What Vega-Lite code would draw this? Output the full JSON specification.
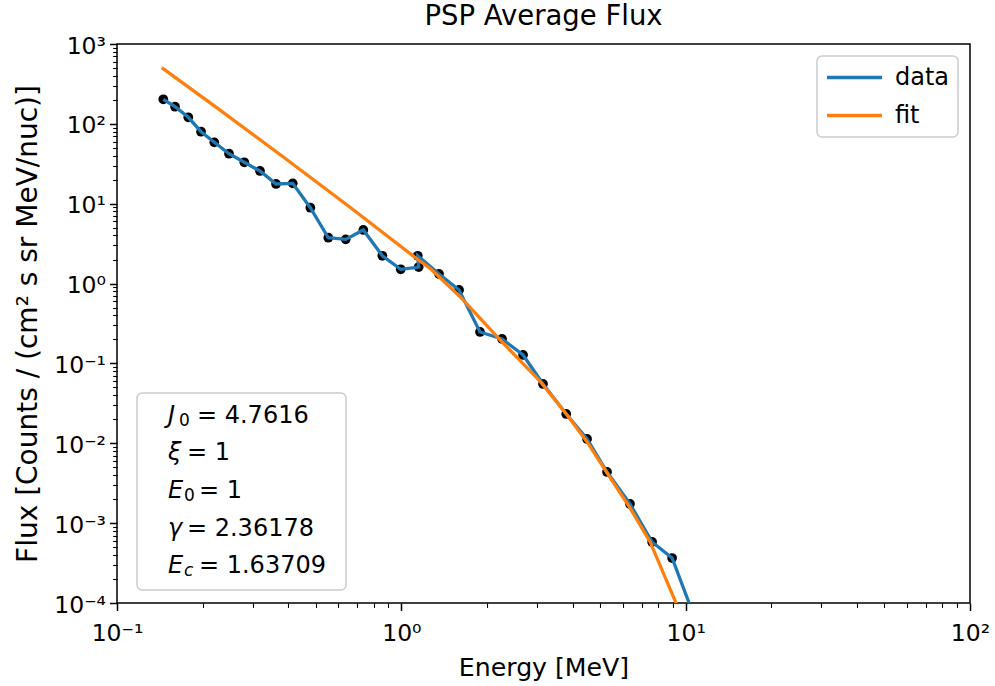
{
  "$schema": "https://vega.github.io/schema/vega-lite/v6.json",
  "width": 853,
  "height": 559,
  "autosize": {"type": "none"},
  "padding": {"left": 117, "top": 44, "right": 25, "bottom": 83},
  "background": "white",
  "title": {"text": "PSP Average Flux", "fontSize": 27.5, "font": "DejaVu Sans", "fontWeight": "normal", "baseline": "alphabetic", "offset": -18, "anchor": "middle", "color": "black"},
  "datasets": {
    "data": [
      {"i": 1, "E": 0.1455, "F": 203},
      {"i": 2, "E": 0.160, "F": 164},
      {"i": 3, "E": 0.1781, "F": 120.8},
      {"i": 4, "E": 0.1975, "F": 79.8},
      {"i": 5, "E": 0.2199, "F": 58.7},
      {"i": 6, "E": 0.2477, "F": 42.3},
      {"i": 7, "E": 0.2804, "F": 33.0},
      {"i": 8, "E": 0.3184, "F": 25.7},
      {"i": 9, "E": 0.3625, "F": 17.66},
      {"i": 10, "E": 0.415, "F": 18.0},
      {"i": 11, "E": 0.4786, "F": 8.91},
      {"i": 12, "E": 0.5535, "F": 3.75},
      {"i": 13, "E": 0.6373, "F": 3.58},
      {"i": 14, "E": 0.735, "F": 4.69},
      {"i": 15, "E": 0.8575, "F": 2.23},
      {"i": 16, "E": 0.995, "F": 1.51},
      {"i": 17, "E": 1.151, "F": 1.61},
      {"i": 18, "E": 1.142, "F": 2.23},
      {"i": 19, "E": 1.357, "F": 1.318},
      {"i": 20, "E": 1.596, "F": 0.832},
      {"i": 21, "E": 1.891, "F": 0.2477},
      {"i": 22, "E": 2.261, "F": 0.2023},
      {"i": 23, "E": 2.680, "F": 0.1276},
      {"i": 24, "E": 3.15, "F": 0.0553},
      {"i": 25, "E": 3.80, "F": 0.0233},
      {"i": 26, "E": 4.50, "F": 0.01132},
      {"i": 27, "E": 5.29, "F": 0.00437},
      {"i": 28, "E": 6.37, "F": 0.00174},
      {"i": 29, "E": 7.62, "F": 0.000581},
      {"i": 30, "E": 8.96, "F": 0.000366},
      {"i": 31, "E": 10.6, "F": 0.000075}
    ],
    "fit": [
      {"E": 0.1436, "F": 505},
      {"E": 0.2242, "F": 159.3},
      {"E": 0.3846, "F": 38.5},
      {"E": 0.660, "F": 9.02},
      {"E": 1.148, "F": 1.974},
      {"E": 1.262, "F": 1.55},
      {"E": 1.609, "F": 0.685},
      {"E": 2.224, "F": 0.1966},
      {"E": 3.002, "F": 0.0657},
      {"E": 3.15, "F": 0.0537},
      {"E": 3.83, "F": 0.0226},
      {"E": 4.50, "F": 0.0104},
      {"E": 5.29, "F": 0.00425},
      {"E": 6.37, "F": 0.00155},
      {"E": 7.50, "F": 0.000581},
      {"E": 9.25, "F": 0.0001},
      {"E": 10.36, "F": 0.000034}
    ]
  },
  "config": {
    "font": "DejaVu Sans",
    "view": {"stroke": "black", "strokeWidth": 1.5},
    "axis": {"grid": false, "domain": false, "ticks": true, "tickColor": "black", "labelColor": "black", "titleColor": "black", "labelFont": "DejaVu Sans", "titleFont": "DejaVu Sans", "labelFontSize": 23.5, "titleFontSize": 25.2, "titleFontWeight": "normal", "labelFlush": false, "labelOverlap": false, "labelBound": false},
    "legend": {"orient": "top-right", "offset": 12, "labelFontSize": 24, "labelFont": "DejaVu Sans", "labelColor": "black", "symbolType": "stroke", "symbolSize": 3025, "symbolStrokeWidth": 3.3, "clipHeight": 27, "rowPadding": 11, "padding": 8, "labelOffset": 11, "strokeColor": "#cccccc", "fillColor": "rgba(255,255,255,0.8)", "cornerRadius": 5, "strokeWidth": 1.5},
    "text": {"font": "DejaVu Sans", "color": "black", "align": "left", "baseline": "middle"}
  },
  "layer": [
    {
      "data": {"name": "data"},
      "mark": {"type": "circle", "color": "black", "size": 95, "opacity": 1, "clip": true},
      "encoding": {
        "x": {"field": "E", "type": "quantitative", "scale": {"type": "log", "domain": [0.1, 100], "nice": false},
          "axis": {"orient": "bottom",
            "values": [0.1, 0.2, 0.3, 0.4, 0.5, 0.6, 0.7, 0.8, 0.9, 1, 2, 3, 4, 5, 6, 7, 8, 9, 10, 20, 30, 40, 50, 60, 70, 80, 90, 100],
            "labelExpr": "abs(log(datum.value)/LN10-round(log(datum.value)/LN10))<0.001 ? ['10⁻¹','10⁰','10¹','10²'][round(log(datum.value)/LN10)+1] : ''",
            "tickSize": 7.5,
            "tickDash": {"condition": {"test": "abs(log(datum.value)/LN10-round(log(datum.value)/LN10))<0.001", "value": []}, "value": [4.4, 20]},
            "tickWidth": {"condition": {"test": "abs(log(datum.value)/LN10-round(log(datum.value)/LN10))<0.001", "value": 1.5}, "value": 1.1},
            "labelPadding": 10.5, "title": "Energy [MeV]", "titleBaseline": "alphabetic", "titleY": 72}},
        "y": {"field": "F", "type": "quantitative", "scale": {"type": "log", "domain": [0.0001, 1000], "nice": false},
          "axis": {"orient": "left",
            "values": [0.0001, 0.0002, 0.0003, 0.0004, 0.0005, 0.0006, 0.0007, 0.0008, 0.0009, 0.001, 0.002, 0.003, 0.004, 0.005, 0.006, 0.007, 0.008, 0.009, 0.01, 0.02, 0.03, 0.04, 0.05, 0.06, 0.07, 0.08, 0.09, 0.1, 0.2, 0.3, 0.4, 0.5, 0.6, 0.7, 0.8, 0.9, 1, 2, 3, 4, 5, 6, 7, 8, 9, 10, 20, 30, 40, 50, 60, 70, 80, 90, 100, 200, 300, 400, 500, 600, 700, 800, 900, 1000],
            "labelExpr": "abs(log(datum.value)/LN10-round(log(datum.value)/LN10))<0.001 ? ['10⁻⁴','10⁻³','10⁻²','10⁻¹','10⁰','10¹','10²','10³'][round(log(datum.value)/LN10)+4] : ''",
            "tickSize": 7.5,
            "tickDash": {"condition": {"test": "abs(log(datum.value)/LN10-round(log(datum.value)/LN10))<0.001", "value": []}, "value": [4.4, 20]},
            "tickWidth": {"condition": {"test": "abs(log(datum.value)/LN10-round(log(datum.value)/LN10))<0.001", "value": 1.5}, "value": 1.1},
            "labelPadding": 4, "labelOffset": 2, "title": "Flux [Counts / (cm² s sr MeV/nuc)]", "titleFontSize": 28, "titleX": -81, "titleY": 279.5, "titleAngle": 270, "titleBaseline": "alphabetic", "titleAlign": "center"}}
      }
    },
    {
      "data": {"name": "data"},
      "mark": {"type": "line", "strokeWidth": 3.3, "clip": true},
      "encoding": {
        "x": {"field": "E", "type": "quantitative"},
        "y": {"field": "F", "type": "quantitative"},
        "order": {"field": "i", "type": "quantitative"},
        "color": {"datum": "data", "type": "nominal", "scale": {"domain": ["data", "fit"], "range": ["#1f77b4", "#ff7f0e"]}, "legend": {"title": null}}
      }
    },
    {
      "data": {"name": "fit"},
      "mark": {"type": "line", "strokeWidth": 3.3, "clip": true},
      "encoding": {
        "x": {"field": "E", "type": "quantitative"},
        "y": {"field": "F", "type": "quantitative"},
        "color": {"datum": "fit", "type": "nominal"}
      }
    },
    {
      "data": {"values": [{}]},
      "mark": {"type": "rect", "fill": "white", "fillOpacity": 0.8, "stroke": "#cccccc", "strokeWidth": 1.5, "cornerRadius": 5},
      "encoding": {
        "x": {"datum": 0.1176, "type": "quantitative"},
        "x2": {"datum": 0.639},
        "y": {"datum": 0.0001456, "type": "quantitative"},
        "y2": {"datum": 0.0427}
      }
    },
    {
      "data": {"values": [{}]},
      "encoding": {
        "x": {"datum": 0.1511, "type": "quantitative"},
        "y": {"datum": 0.0220, "type": "quantitative"}
      },
      "layer": [
        {"mark": {"type": "text", "text": "J", "fontStyle": "italic", "fontSize": 24}},
        {"mark": {"type": "text", "text": "0", "fontSize": 17, "dx": 11, "dy": 5}},
        {"mark": {"type": "text", "text": "= 4.7616", "fontSize": 24, "dx": 29}}
      ]
    },
    {
      "data": {"values": [{}]},
      "encoding": {
        "x": {"datum": 0.1511, "type": "quantitative"},
        "y": {"datum": 0.00755, "type": "quantitative"}
      },
      "layer": [
        {"mark": {"type": "text", "text": "ξ", "fontStyle": "italic", "fontSize": 24}},
        {"mark": {"type": "text", "text": "= 1", "fontSize": 24, "dx": 19}}
      ]
    },
    {
      "data": {"values": [{}]},
      "encoding": {
        "x": {"datum": 0.1511, "type": "quantitative"},
        "y": {"datum": 0.00253, "type": "quantitative"}
      },
      "layer": [
        {"mark": {"type": "text", "text": "E", "fontStyle": "italic", "fontSize": 24}},
        {"mark": {"type": "text", "text": "0", "fontSize": 17, "dx": 16, "dy": 5}},
        {"mark": {"type": "text", "text": "= 1", "fontSize": 24, "dx": 31}}
      ]
    },
    {
      "data": {"values": [{}]},
      "encoding": {
        "x": {"datum": 0.1511, "type": "quantitative"},
        "y": {"datum": 0.000845, "type": "quantitative"}
      },
      "layer": [
        {"mark": {"type": "text", "text": "γ", "fontStyle": "italic", "fontSize": 24}},
        {"mark": {"type": "text", "text": "= 2.36178", "fontSize": 24, "dx": 19}}
      ]
    },
    {
      "data": {"values": [{}]},
      "encoding": {
        "x": {"datum": 0.1511, "type": "quantitative"},
        "y": {"datum": 0.000291, "type": "quantitative"}
      },
      "layer": [
        {"mark": {"type": "text", "text": "E", "fontStyle": "italic", "fontSize": 24}},
        {"mark": {"type": "text", "text": "c", "fontStyle": "italic", "fontSize": 17, "dx": 16, "dy": 5}},
        {"mark": {"type": "text", "text": "= 1.63709", "fontSize": 24, "dx": 31}}
      ]
    }
  ]
}
